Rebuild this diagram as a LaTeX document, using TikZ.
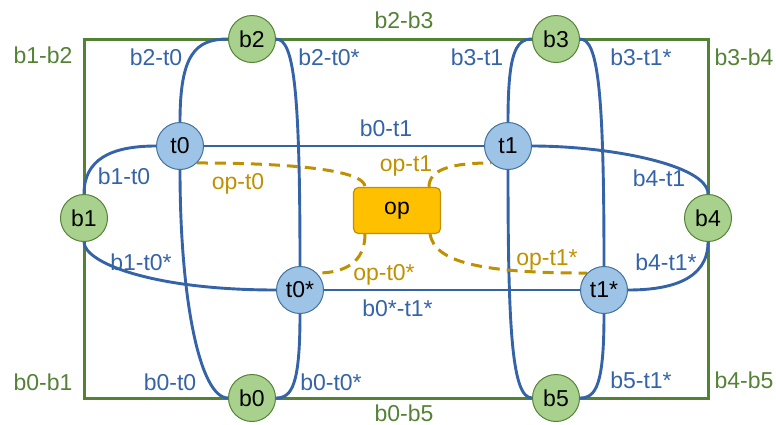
\documentclass[tikz,border=0pt]{standalone}
\usepackage{fontspec}
\setmainfont{Liberation Sans}
\usetikzlibrary{backgrounds}
\definecolor{lblue}{HTML}{3563A8}
\definecolor{lgreen}{HTML}{548235}
\definecolor{lorange}{HTML}{BF9000}
\definecolor{gfill}{HTML}{A9D18E}
\definecolor{gborder}{HTML}{548235}
\definecolor{tfill}{HTML}{9DC3E6}
\definecolor{tborder}{HTML}{41719C}
\definecolor{ofill}{HTML}{FFC000}
\definecolor{oborder}{HTML}{BF9000}
\begin{document}
\begin{tikzpicture}[x=1pt,y=-1pt,
  lbl/.style={inner sep=0pt, text height=16.5pt, text depth=0pt, font=\fontsize{23}{27}\selectfont},
  bnode/.style={circle, draw=gborder, fill=gfill, line width=1pt, minimum size=47pt, inner sep=0pt, font=\fontsize{23}{27}\selectfont},
  tnode/.style={circle, draw=tborder, fill=tfill, line width=1pt, minimum size=47pt, inner sep=0pt, font=\fontsize{23}{27}\selectfont},
  opnode/.style={rectangle, rounded corners=5pt, draw=oborder, fill=ofill, line width=1.2pt, minimum width=87pt, minimum height=46pt, inner sep=0pt, font=\fontsize{23}{27}\selectfont},
  bedge/.style={draw=lblue, line width=2.9pt},
  gedge/.style={draw=lgreen, line width=3pt},
  oedge/.style={draw=lorange, line width=3pt, dash pattern=on 11pt off 7pt},
  glab/.style={lbl, text=lgreen},
  blab/.style={lbl, text=lblue},
  olab/.style={lbl, text=lorange}
]
\useasboundingbox (0,0) rectangle (776,424);

% nodes
\node[bnode] (b2) at (252,39) {b2};
\node[bnode] (b3) at (556,39) {b3};
\node[bnode] (b1) at (84,218) {b1};
\node[bnode] (b4) at (708,218) {b4};
\node[bnode] (b0) at (252,398) {b0};
\node[bnode] (b5) at (556,398) {b5};
\node[tnode] (t0) at (180,146) {t0};
\node[tnode] (t1) at (508,146) {t1};
\node[tnode] (t0s) at (300,290) {t0*};
\node[tnode] (t1s) at (604,290) {t1*};
\node[opnode] (op) at (397,210.5) {op};

\begin{scope}[on background layer]
% green frame
\draw[gedge] (b1.north) |- (b2.west);
\draw[gedge] (b2.east) -- (b3.west);
\draw[gedge] (b3.east) -| (b4.north);
\draw[gedge] (b4.south) |- (b5.east);
\draw[gedge] (b0.east) -- (b5.west);
\draw[gedge] (b0.west) -| (b1.south);
% blue edges
\draw[bedge] (b2.west) .. controls +(-33,0) and +(0,-67) .. (t0.north);
\draw[bedge] (b2.east) .. controls +(18,0) and +(0,-176) .. (t0s.north);
\draw[bedge] (b3.west) .. controls +(-17,0) and +(0,-67) .. (t1.north);
\draw[bedge] (b3.east) .. controls +(18,0) and +(0,-176) .. (t1s.north);
\draw[bedge] (b1.north) .. controls +(0,-34) and +(-46,0) .. (t0.west);
\draw[bedge] (b1.south) .. controls +(0,20) and +(-126,0) .. (t0s.west);
\draw[bedge] (t1.east) .. controls +(78,0) and +(0,-29) .. (b4.north);
\draw[bedge] (t1s.east) .. controls +(42,0) and +(0,38) .. (b4.south);
\draw[bedge] (t0.south) .. controls +(0,130) and +(-28,0) .. (b0.west);
\draw[bedge] (t0s.south) .. controls +(0,71) and +(16,0) .. (b0.east);
\draw[bedge] (t1.south) .. controls +(0,160) and +(-20,0) .. (b5.west);
\draw[bedge] (t1s.south) .. controls +(0,71) and +(16,0) .. (b5.east);
\draw[bedge] (t0.east) -- (t1.west);
\draw[bedge] (t0s.east) -- (t1s.west);
% orange dashed edges
\draw[oedge] (t0.south east) .. controls +(93,0) and +(0,-17) .. ([xshift=-32pt]op.north);
\draw[oedge] ([xshift=32pt]op.north) .. controls +(0,-17) and +(-41,0) .. (t1.south west);
\draw[oedge] ([xshift=-32pt]op.south) .. controls +(0,28) and +(28,0) .. (t0s.north east);
\draw[oedge] ([xshift=33pt]op.south) .. controls +(5,28) and +(-107,0) .. (t1s.north west);
\end{scope}

% green labels
\node[glab] (lb1b2) at (43,55) {b1-b2};
\node[glab] (lb2b3) at (404,20) {b2-b3};
\node[glab] (lb3b4) at (744,57) {b3-b4};
\node[glab] (lb4b5) at (744,380) {b4-b5};
\node[glab] (lb0b5) at (404,413) {b0-b5};
\node[glab] (lb0b1) at (43,382) {b0-b1};
% blue labels
\node[blab] (lb2t0) at (156,57) {b2-t0};
\node[blab] (lb2t0s) at (329,57) {b2-t0*};
\node[blab] (lb3t1) at (477,57) {b3-t1};
\node[blab] (lb3t1s) at (641,57) {b3-t1*};
\node[blab] (lb0t1) at (386,128) {b0-t1};
\node[blab] (lb1t0) at (124,176) {b1-t0};
\node[blab] (lb4t1) at (659,178) {b4-t1};
\node[blab] (lb1t0s) at (141,262) {b1-t0*};
\node[blab] (lb0st1s) at (397.5,308) {b0*-t1*};
\node[blab] (lb4t1s) at (666,262) {b4-t1*};
\node[blab] (lb0t0) at (170,382) {b0-t0};
\node[blab] (lb0t0s) at (331,382) {b0-t0*};
\node[blab] (lb5t1s) at (641,380) {b5-t1*};
% orange labels
\node[olab] (lopt0) at (238,181) {op-t0};
\node[olab] (lopt1) at (406,163) {op-t1};
\node[olab] (lopt0s) at (384,272) {op-t0*};
\node[olab] (lopt1s) at (547,257) {op-t1*};
\end{tikzpicture}
\end{document}
